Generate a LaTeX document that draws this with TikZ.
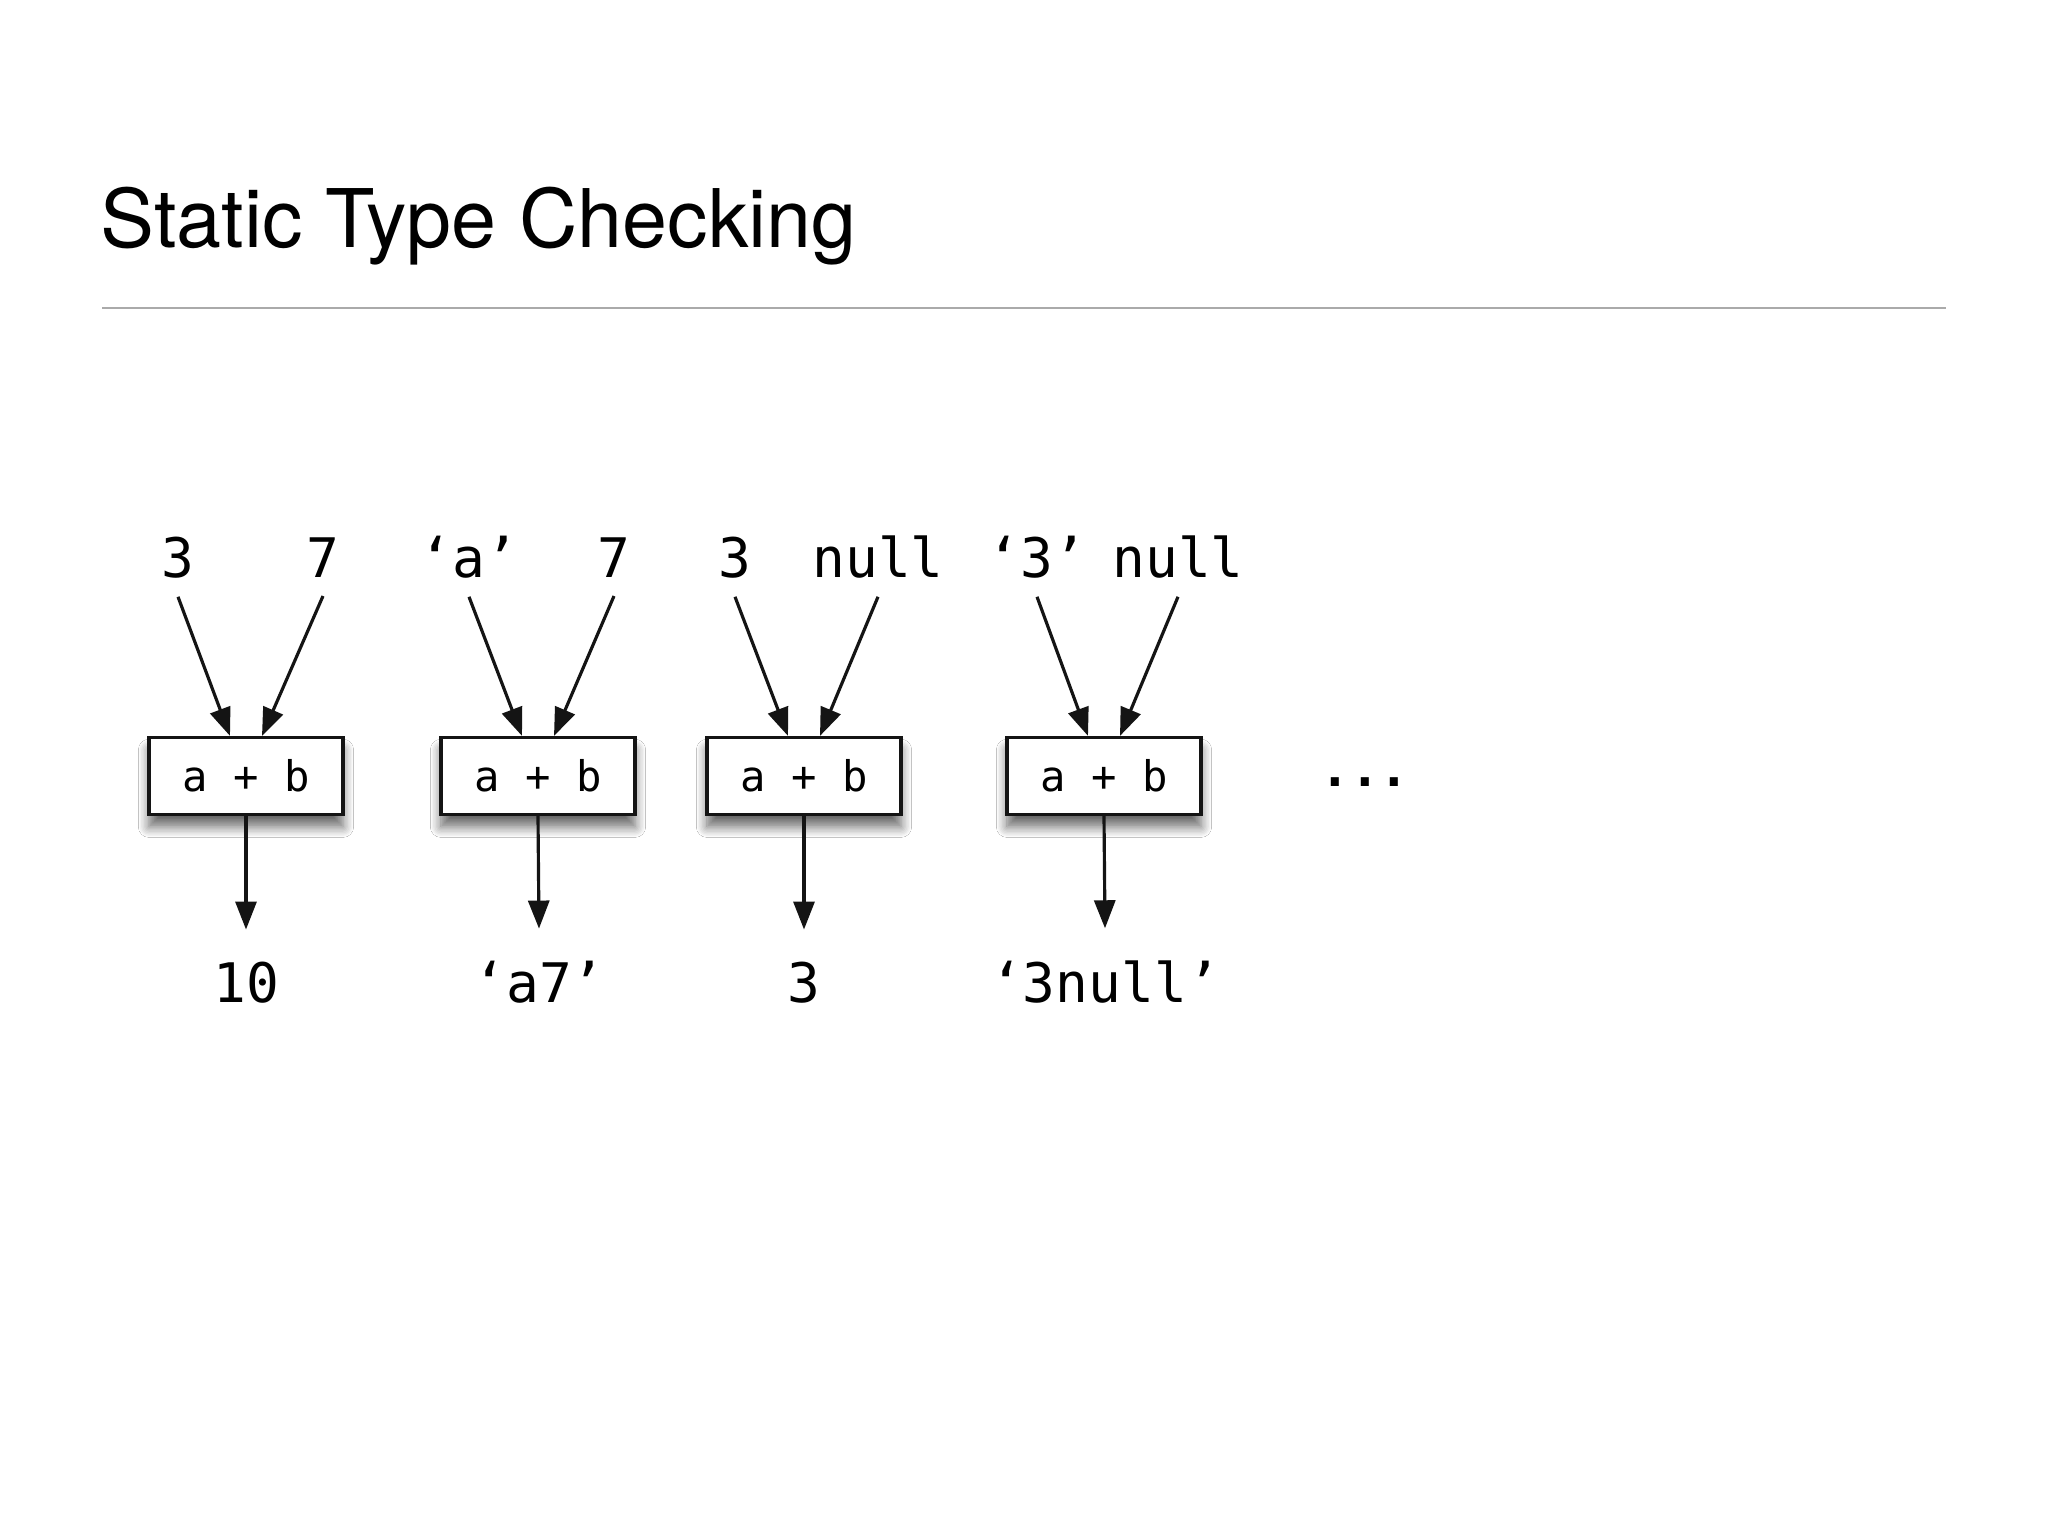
\documentclass[tikz,border=0pt]{standalone}
\usepackage{fontspec}
\setmainfont{TeX Gyre Heros}
\newfontfamily\codefont{DejaVu Sans Mono}
\usepackage{tikz}
\usetikzlibrary{arrows.meta, positioning, shadows.blur}
\definecolor{cinzaLinha}{RGB}{170,170,170}
\definecolor{pretoSeta}{RGB}{20,20,20}

\begin{document}
\begin{tikzpicture}[
    x=0.01cm, y=-0.01cm,
    every node/.style={inner sep=0pt},
    valor/.style={font=\codefont\fontsize{15.5}{18}\selectfont, anchor=base, outer xsep=0pt, outer ysep=1.9mm},
    resultado/.style={font=\codefont\fontsize{15.5}{18}\selectfont, anchor=base, outer xsep=0pt, outer ysep=3.2mm},
    operacao/.style={draw=pretoSeta, line width=0.9pt, fill=white, minimum width=1.94cm, minimum height=0.77cm, font=\codefont\fontsize{12}{15}\selectfont, blur shadow={shadow xshift=0pt, shadow yshift=-3.5pt, shadow blur radius=3pt, shadow blur steps=8, shadow opacity=60}},
    seta/.style={draw=pretoSeta, line width=0.9pt, -{Triangle[length=2.8mm, width=2.1mm]}}
]

    % Fundo e margens
    \fill[white] (0,0) rectangle (2048,1536);
    \useasboundingbox (0,0) rectangle (2048,1536);

    % Titulo do slide
    \node[anchor=base west, font=\fontsize{23}{28}\selectfont] (titulo) at (100,247) {Static Type Checking};
    \draw[cinzaLinha, line width=0.6pt] (102,308) -- (1946,308);

    % Caso 1: 3 + 7
    \node[valor] (a1) at (178,577) {3};
    \node[valor] (b1) at (323,577) {7};
    \node[operacao] (op1) at (246,776) {a + b};
    \node[resultado] (r1) at (246,1002) {10};

    % Caso 2: 'a' + 7
    \node[valor] (a2) at (469,577) {‘a’};
    \node[valor] (b2) at (614,577) {7};
    \node[operacao] (op2) at (538,776) {a + b};
    \node[resultado] (r2) at (539,1002) {‘a7’};

    % Caso 3: 3 + null
    \node[valor] (a3) at (735,577) {3};
    \node[valor] (b3) at (878,577) {null};
    \node[operacao] (op3) at (804,776) {a + b};
    \node[resultado] (r3) at (804,1002) {3};

    % Caso 4: '3' + null
    \node[valor] (a4) at (1037,577) {‘3’};
    \node[valor] (b4) at (1178,577) {null};
    \node[operacao] (op4) at (1104,776) {a + b};
    \node[resultado] (r4) at (1105,1002) {‘3null’};

    % Reticencias
    \node[font=\codefont\fontsize{14}{16}\selectfont\bfseries] (mais) at (1365,782) {...};

    % Setas de entrada e saida
    \draw[seta] (a1.south) -- ([xshift=-1.6mm]op1.north);
    \draw[seta] (b1.south) -- ([xshift=1.6mm]op1.north);
    \draw[seta] (op1.south) -- (r1.north);

    \draw[seta] (a2.south) -- ([xshift=-1.6mm]op2.north);
    \draw[seta] (b2.south) -- ([xshift=1.6mm]op2.north);
    \draw[seta] (op2.south) -- (r2.north);

    \draw[seta] (a3.south) -- ([xshift=-1.6mm]op3.north);
    \draw[seta] (b3.south) -- ([xshift=1.6mm]op3.north);
    \draw[seta] (op3.south) -- (r3.north);

    \draw[seta] (a4.south) -- ([xshift=-1.6mm]op4.north);
    \draw[seta] (b4.south) -- ([xshift=1.6mm]op4.north);
    \draw[seta] (op4.south) -- (r4.north);

\end{tikzpicture}
\end{document}
